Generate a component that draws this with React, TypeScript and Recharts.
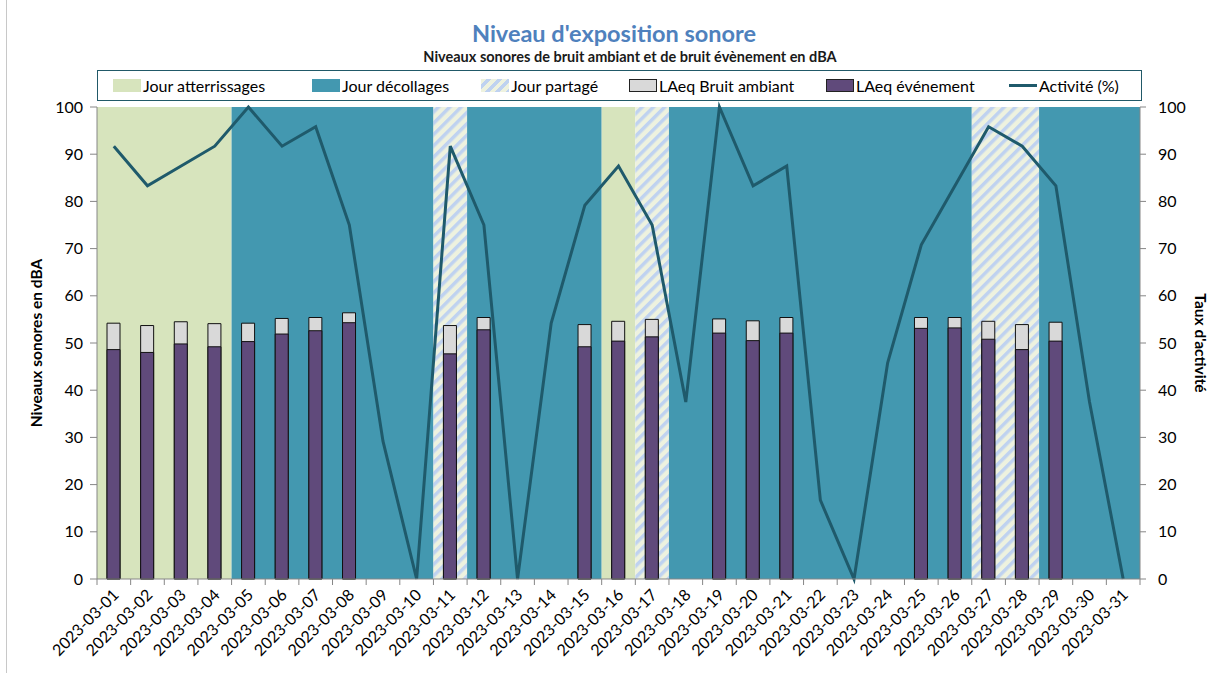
import React from 'react';
import { ComposedChart, Bar, Line, XAxis, YAxis, ReferenceArea } from 'recharts';

const dates = [
  '2023-03-01', '2023-03-02', '2023-03-03', '2023-03-04', '2023-03-05', '2023-03-06', '2023-03-07', '2023-03-08',
  '2023-03-09', '2023-03-10', '2023-03-11', '2023-03-12', '2023-03-13', '2023-03-14', '2023-03-15', '2023-03-16',
  '2023-03-17', '2023-03-18', '2023-03-19', '2023-03-20', '2023-03-21', '2023-03-22', '2023-03-23', '2023-03-24',
  '2023-03-25', '2023-03-26', '2023-03-27', '2023-03-28', '2023-03-29', '2023-03-30', '2023-03-31',
];

// A = Jour atterrissages, D = Jour décollages, P = Jour partagé
const dayTypes = [
  'A', 'A', 'A', 'A', 'D', 'D', 'D', 'D', 'D', 'D', 'P', 'D', 'D', 'D', 'D', 'A',
  'P', 'D', 'D', 'D', 'D', 'D', 'D', 'D', 'D', 'D', 'P', 'P', 'D', 'D', 'D',
];

const ambient = [
  54.2, 53.7, 54.5, 54.1, 54.2, 55.2, 55.4, 56.4, null, null, 53.7, 55.4, null, null, 53.9, 54.6,
  55.0, null, 55.1, 54.7, 55.4, null, null, null, 55.4, 55.4, 54.6, 53.9, 54.4, null, null,
];

const eventLevel = [
  48.6, 48.0, 49.8, 49.2, 50.3, 51.9, 52.6, 54.3, null, null, 47.7, 52.8, null, null, 49.2, 50.4,
  51.3, null, 52.1, 50.5, 52.1, null, null, null, 53.1, 53.2, 50.8, 48.6, 50.4, null, null,
];

const activity = [
  91.7, 83.3, 87.5, 91.7, 100, 91.7, 95.8, 75, 29.2, 0, 91.7, 75, 0, 54.2, 79.2, 87.5,
  75, 37.5, 100, 83.3, 87.5, 16.7, 0, 45.8, 70.8, 83.3, 95.8, 91.7, 83.3, 37.5, 0,
];

const yTicks = [0, 10, 20, 30, 40, 50, 60, 70, 80, 90, 100];

const data = dates.map((d, i) => ({
  date: d,
  ambient: ambient[i],
  event: eventLevel[i],
  activity: activity[i],
}));

type Seg = { type: string; start: string; end: string };
const segments: Seg[] = [];
dayTypes.forEach((t, i) => {
  if (i > 0 && dayTypes[i - 1] === t) segments[segments.length - 1].end = dates[i];
  else segments.push({ type: t, start: dates[i], end: dates[i] });
});

const GREEN = '#d7e4bd';
const TEAL = '#4398b0';
const PURPLE = '#604a7b';
const GRAY = '#d9d9d9';
const LINE = '#1f5a6b';
const AXIS = '#868686';
const HATCH_BG = '#eef2df';
const HATCH_FG = '#bfd2f0';
const FONT = "Lato, 'Open Sans', sans-serif";

const fillFor = (t: string) => (t === 'A' ? GREEN : t === 'D' ? TEAL : 'url(#hatch)');

const XTick = (props: any) => {
  const { x, y, payload, index } = props;
  const off = payload && payload.offset ? payload.offset : 16.8;
  return (
    <g>
      <line x1={x - off} x2={x - off} y1={y} y2={y + 6} stroke={AXIS} />
      {index === dates.length - 1 && <line x1={x + off} x2={x + off} y1={y} y2={y + 6} stroke={AXIS} />}
      <text
        x={0}
        y={0}
        transform={`translate(${x + 6},${y + 17}) rotate(-45)`}
        textAnchor="end"
        fontSize={16}
        fontFamily={FONT}
        fill="#000"
      >
        {payload.value}
      </text>
    </g>
  );
};

const legendItems = [
  { label: 'Jour atterrissages', kind: 'green', left: 112 },
  { label: 'Jour décollages', kind: 'teal', left: 311 },
  { label: 'Jour partagé', kind: 'hatch', left: 480 },
  { label: 'LAeq Bruit ambiant', kind: 'gray', left: 628 },
  { label: 'LAeq événement', kind: 'purple', left: 825 },
  { label: 'Activité (%)', kind: 'line', left: 1008 },
];

const Swatch = ({ kind }: { kind: string }) => {
  const base: React.CSSProperties = { width: 28, height: 13, boxSizing: 'border-box', marginRight: 2 };
  if (kind === 'green') return <div style={{ ...base, background: GREEN }} />;
  if (kind === 'teal') return <div style={{ ...base, background: TEAL }} />;
  if (kind === 'hatch')
    return (
      <div
        style={{
          ...base,
          background: `repeating-linear-gradient(135deg, ${HATCH_BG} 0px, ${HATCH_BG} 4px, ${HATCH_FG} 4px, ${HATCH_FG} 7.5px)`,
        }}
      />
    );
  if (kind === 'gray') return <div style={{ ...base, background: GRAY, border: '1.5px solid #222' }} />;
  if (kind === 'purple') return <div style={{ ...base, background: PURPLE, border: '1.5px solid #222' }} />;
  return (
    <div style={{ ...base, display: 'flex', alignItems: 'center' }}>
      <div style={{ width: 28, height: 3, background: LINE }} />
    </div>
  );
};

export default function App() {
  return (
    <div style={{ position: 'absolute', left: 0, top: 0, width: 1220, height: 673, background: '#fff', fontFamily: FONT }}>
      <div style={{ position: 'absolute', left: 6, top: 0, width: 1, height: 673, background: '#c8c8c8' }} />
      <div
        style={{
          position: 'absolute',
          left: 0,
          width: 1220,
          top: 18,
          textAlign: 'center',
          fontSize: 23.5,
          fontWeight: 700,
          color: '#4f81bd',
          lineHeight: '30px',
          paddingLeft: 4,
        }}
      >
        Niveau d'exposition sonore
      </div>
      <div
        style={{
          position: 'absolute',
          left: 0,
          width: 1220,
          top: 48,
          textAlign: 'center',
          fontSize: 14.5,
          fontWeight: 700,
          color: '#1a1a1a',
          lineHeight: '18px',
          paddingLeft: 20,
        }}
      >
        Niveaux sonores de bruit ambiant et de bruit évènement en dBA
      </div>
      <div
        style={{
          position: 'absolute',
          left: 97,
          top: 70,
          width: 1045,
          height: 31,
          boxSizing: 'border-box',
          border: '1.5px solid #215968',
        }}
      >
        {legendItems.map((it) => (
          <div
            key={it.label}
            style={{
              position: 'absolute',
              left: it.left - 97,
              top: 0,
              height: 28,
              display: 'flex',
              alignItems: 'center',
              fontSize: 16,
              color: '#000',
              whiteSpace: 'nowrap',
            }}
          >
            <Swatch kind={it.kind} />
            <span>{it.label}</span>
          </div>
        ))}
      </div>
      <ComposedChart
        width={1220}
        height={673}
        data={data}
        margin={{ top: 107, right: 20, bottom: 0, left: 0 }}
        barGap={-13}
        style={{ position: 'absolute', left: 0, top: 0 }}
      >
        <defs>
          <pattern id="hatch" patternUnits="userSpaceOnUse" width="8" height="8" patternTransform="rotate(45)">
            <rect x="0" y="0" width="8" height="8" fill={HATCH_BG} />
            <rect x="0" y="0" width="3.5" height="8" fill={HATCH_FG} />
          </pattern>
        </defs>
        <XAxis
          dataKey="date"
          xAxisId="x"
          height={94}
          interval={0}
          tickLine={false}
          tickSize={0}
          tickMargin={0}
          axisLine={{ stroke: AXIS }}
          tick={<XTick />}
        />
        <YAxis
          yAxisId="left"
          domain={[0, 100]}
          ticks={yTicks}
          width={97}
          tickSize={7}
          tickMargin={7}
          axisLine={{ stroke: AXIS }}
          tickLine={{ stroke: AXIS }}
          tick={{ fill: '#000', fontSize: 16, fontFamily: FONT }}
          label={{
            content: () => (
              <text
                x={36}
                y={343}
                transform="rotate(-90 36 343)"
                textAnchor="middle"
                dominantBaseline="central"
                fontSize={15.5}
                fontWeight={700}
                fontFamily={FONT}
                fill="#000"
              >
                Niveaux sonores en dBA
              </text>
            ),
          }}
        />
        <YAxis
          yAxisId="right"
          orientation="right"
          domain={[0, 100]}
          ticks={yTicks}
          width={60}
          tickSize={6}
          tickMargin={12}
          axisLine={{ stroke: AXIS }}
          tickLine={{ stroke: AXIS }}
          tick={{ fill: '#000', fontSize: 16, fontFamily: FONT, textAnchor: 'start' }}
          label={{
            content: () => (
              <text
                x={1201}
                y={343}
                transform="rotate(90 1201 343)"
                textAnchor="middle"
                dominantBaseline="central"
                fontSize={15.5}
                fontWeight={700}
                fontFamily={FONT}
                fill="#000"
              >
                Taux d'activité
              </text>
            ),
          }}
        />
        {segments.map((s, i) => (
          <ReferenceArea
            key={i}
            xAxisId="x"
            yAxisId="left"
            x1={s.start}
            x2={s.end}
            y1={0}
            y2={100}
            fill={fillFor(s.type)}
            fillOpacity={1}
            stroke="none"
            ifOverflow="visible"
          />
        ))}
        <Bar
          dataKey="ambient"
          xAxisId="x"
          yAxisId="left"
          barSize={13}
          fill={GRAY}
          stroke="#111"
          strokeWidth={1}
          isAnimationActive={false}
        />
        <Bar
          dataKey="event"
          xAxisId="x"
          yAxisId="left"
          barSize={13}
          fill={PURPLE}
          stroke="#111"
          strokeWidth={1}
          isAnimationActive={false}
        />
        <Line
          dataKey="activity"
          xAxisId="x"
          yAxisId="right"
          type="linear"
          stroke={LINE}
          strokeWidth={3}
          dot={false}
          activeDot={false}
          isAnimationActive={false}
        />
      </ComposedChart>
    </div>
  );
}
